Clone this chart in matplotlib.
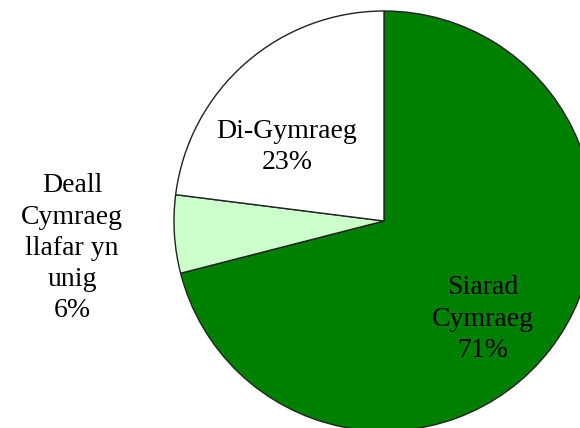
import matplotlib.pyplot as plt

# Welsh speaking ability shares (percent)
labels = ['Siarad\nCymraeg\n71%', 'Deall\nCymraeg\nllafar yn\nunig\n6%', 'Di-Gymraeg\n23%']
shares = [71, 6, 23]
colours = ['#008000', '#ccffcc', '#ffffff']

fig = plt.figure(figsize=(5.8, 4.28), dpi=100)
ax = fig.add_axes([0, 0, 1, 1])

ax.pie(shares, colors=colours, startangle=90, counterclock=False,
       wedgeprops=dict(edgecolor='#222222', linewidth=1.0))

# pie radius is 1, centre sits at (384, 221) px with radius 210 px
ax.set_xlim(-384 / 210, (580 - 384) / 210)
ax.set_ylim((221 - 428) / 210, 221 / 210)
ax.set_aspect('equal')
ax.axis('off')

# label spots, by eye from the original
label_xy = [(0.471, -0.467), (-1.486, -0.129), (-0.462, 0.352)]
for txt, (x, y) in zip(labels, label_xy):
    ax.text(x, y, txt, ha='center', va='center', fontsize=20,
            family='Liberation Serif', linespacing=1.32, color='black')

fig.savefig('out.png', dpi=100)
